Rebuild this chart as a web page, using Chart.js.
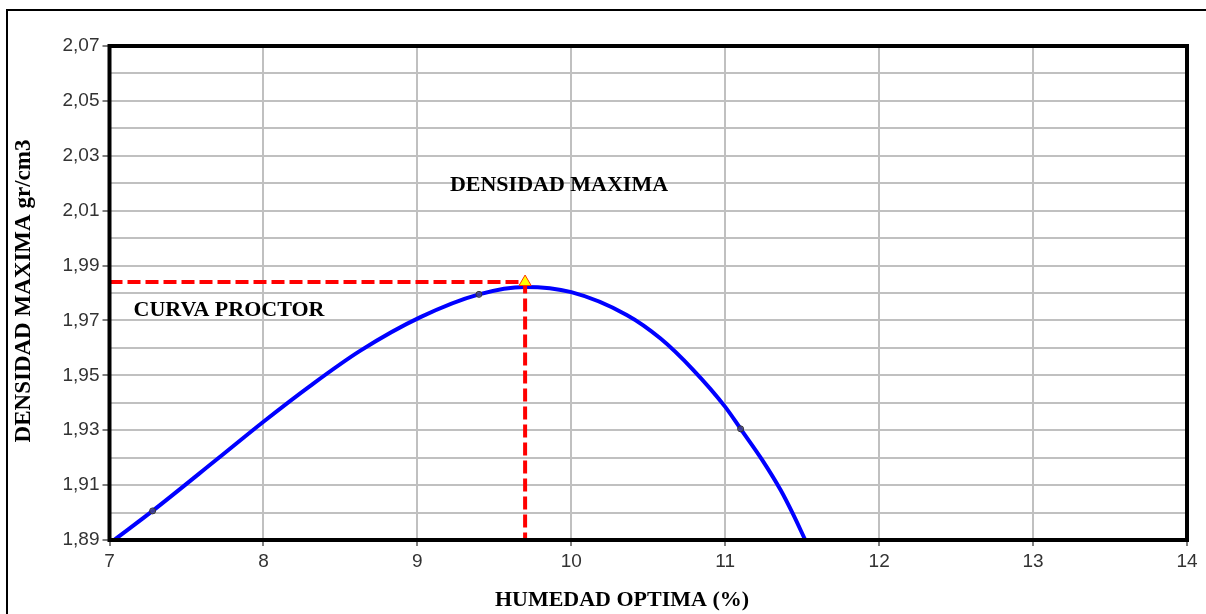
<!DOCTYPE html>
<html>
<head>
<meta charset="utf-8">
<script src="https://cdn.jsdelivr.net/npm/chart.js@4/dist/chart.umd.min.js"></script>
<style>
  body { margin: 0; background: #fff; }
  #wrap { position: relative; width: 1206px; height: 614px; }
</style>
</head>
<body>
<div id="wrap"><canvas id="proctorChart"></canvas></div>
<script>
// curva proctor
const CURVE_X = [7.03, 7.28, 7.70, 8.00, 8.30, 8.63, 9.02, 9.40, 9.70, 10.00, 10.36, 10.58, 10.79, 11.00, 11.10, 11.24, 11.36, 11.44, 11.52];
const CURVE_Y = [1.8900, 1.9006, 1.9195, 1.9331, 1.9460, 1.9590, 1.9712, 1.9795, 1.9822, 1.9803, 1.9720, 1.9634, 1.9521, 1.9385, 1.9305, 1.9192, 1.9082, 1.8995, 1.8900];
// ensayos
const POINT_X = [7.28, 9.40, 11.10];
const POINT_Y = [1.9006, 1.9795, 1.9305];
// humedad optima / densidad maxima
const OPT_X = [9.70];
const OPT_Y = [1.984];
const DASH_X = [7, 9.70, 9.70];
const DASH_Y = [1.984, 1.984, 1.89];
const X_MIN = 7, X_MAX = 14;
const Y_MIN = 1.89, Y_MAX = 2.07;

const zip = (xs, ys) => xs.map((x, i) => ({ x: x, y: ys[i] }));
const isMajor = (v) => (Math.round(v * 100) - 189) % 2 === 0;

const serif = "'Liberation Serif', 'Times New Roman', serif";
const sans = "'Liberation Sans', Arial, sans-serif";

const decor = {
  id: "decor",
  beforeDraw(chart) {
    const c = chart.ctx;
    c.save();
    c.fillStyle = "#000";
    c.fillRect(6, 9, 1200, 2);
    c.fillRect(6, 9, 2, 605);
    c.restore();
  },
  afterDraw(chart) {
    const c = chart.ctx;
    const a = chart.chartArea;
    const xs = chart.scales.x, ys = chart.scales.y;
    c.save();
    c.strokeStyle = "#000";
    c.lineWidth = 4;
    c.strokeRect(a.left, a.top, a.right - a.left, a.bottom - a.top);

    c.fillStyle = "#000";
    c.font = "bold 22px " + serif;
    c.textBaseline = "middle";
    c.textAlign = "center";
    c.fillText("DENSIDAD MAXIMA", xs.getPixelForValue(9.92), ys.getPixelForValue(2.0194));
    c.textAlign = "left";
    c.fillText("CURVA PROCTOR", xs.getPixelForValue(7.156), ys.getPixelForValue(1.9738));

    // axis titles
    c.textAlign = "center";
    c.fillText("HUMEDAD OPTIMA (%)", 622, 600);
    c.font = "bold 23px " + serif;
    c.translate(24, 291);
    c.rotate(-Math.PI / 2);
    c.fillText("DENSIDAD MAXIMA gr/cm3", 0, 0);
    c.restore();
  },
};

const ctx = document.getElementById("proctorChart").getContext("2d");
const chart = new Chart(ctx, {
  type: "scatter",
  data: {
    datasets: [
      {
        label: "optimo",
        data: zip(OPT_X, OPT_Y),
        pointStyle: "triangle",
        radius: 7,
        backgroundColor: "#ffff00",
        borderColor: "#ff3300",
        borderWidth: 1,
      },
      {
        label: "guias",
        data: zip(DASH_X, DASH_Y),
        showLine: true,
        borderColor: "#ff0000",
        borderWidth: 4,
        borderDash: [13, 5],
        radius: 0,
        tension: 0,
      },
      {
        label: "ensayos",
        data: zip(POINT_X, POINT_Y),
        radius: 3,
        backgroundColor: "rgba(80,80,120,0.75)",
        borderColor: "#333",
        borderWidth: 1,
      },
      {
        label: "curva",
        data: zip(CURVE_X, CURVE_Y),
        showLine: true,
        borderColor: "#0000ff",
        borderWidth: 4,
        radius: 0,
        cubicInterpolationMode: "monotone",
      },
    ],
  },
  options: {
    responsive: true,
    maintainAspectRatio: false,
    animation: false,
    layout: { padding: { top: 46, right: 19, left: 0, bottom: 0 } },
    plugins: {
      legend: { display: false },
      tooltip: { enabled: false },
    },
    scales: {
      x: {
        type: "linear",
        min: X_MIN,
        max: X_MAX,
        afterFit: (s) => { s.height = 74; },
        border: { display: false },
        grid: { color: "#c0c0c0", lineWidth: 2, tickColor: "#000", tickLength: 6, tickWidth: 1 },
        ticks: {
          stepSize: 1,
          padding: 4,
          color: "#333",
          font: { family: sans, size: 19 },
        },
      },
      y: {
        type: "linear",
        min: Y_MIN,
        max: Y_MAX,
        afterFit: (s) => { s.width = 109.5; },
        border: { display: false },
        grid: {
          color: "#c0c0c0",
          lineWidth: 2,
          tickLength: 7,
          tickWidth: 1,
          tickColor: (c) => (c.tick && isMajor(c.tick.value) ? "#000" : "rgba(0,0,0,0)"),
        },
        ticks: {
          stepSize: 0.01,
          autoSkip: false,
          padding: 3,
          color: "#333",
          font: { family: sans, size: 19 },
          callback: (v) => (isMajor(v) ? v.toFixed(2).replace(".", ",") : ""),
        },
      },
    },
  },
  plugins: [decor],
});
</script>
</body>
</html>
